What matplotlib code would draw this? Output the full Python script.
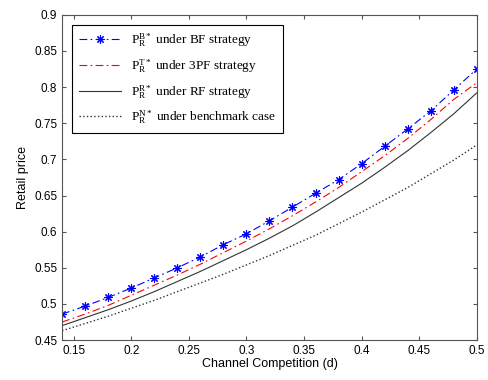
import numpy as np
import matplotlib
matplotlib.use("Agg")
import matplotlib.pyplot as plt

plt.rcParams['font.family'] = ['Liberation Sans', 'DejaVu Sans']
plt.rcParams['mathtext.fontset'] = 'custom'
plt.rcParams['mathtext.rm'] = 'Liberation Serif'
plt.rcParams['mathtext.it'] = 'Liberation Serif:italic'

# Channel competition values
d = [0.14, 0.16, 0.18, 0.20, 0.22, 0.24, 0.26, 0.28, 0.30, 0.32,
     0.34, 0.36, 0.38, 0.40, 0.42, 0.44, 0.46, 0.48, 0.50]

# Retail prices
p_bf = [0.486, 0.497, 0.509, 0.522, 0.536, 0.550, 0.565, 0.582, 0.597, 0.615,
        0.634, 0.653, 0.672, 0.694, 0.718, 0.742, 0.767, 0.796, 0.825]
p_3pf = [0.475, 0.486, 0.498, 0.512, 0.526, 0.540, 0.555, 0.571, 0.587, 0.604,
         0.622, 0.641, 0.661, 0.683, 0.705, 0.729, 0.755, 0.783, 0.806]
p_rf = [0.470, 0.481, 0.492, 0.504, 0.517, 0.531, 0.545, 0.560, 0.575, 0.591,
        0.608, 0.627, 0.647, 0.667, 0.689, 0.712, 0.737, 0.763, 0.792]
p_bench = [0.463, 0.473, 0.483, 0.494, 0.505, 0.517, 0.529, 0.541, 0.554, 0.567,
           0.581, 0.595, 0.611, 0.627, 0.644, 0.661, 0.680, 0.699, 0.720]

labels = [r'$\mathrm{P_R^{B*}}$ under BF strategy',
          r'$\mathrm{P_R^{T*}}$ under 3PF strategy',
          r'$\mathrm{P_R^{R*}}$ under RF strategy',
          r'$\mathrm{P_R^{N*}}$ under benchmark case']

fig = plt.figure(figsize=(4.89, 3.80), dpi=100)
ax = fig.add_axes([0.127, 0.105, 0.848, 0.856])

ax.plot(d, p_bf, color='#0000ff', ls=(0, (7, 3, 1.5, 3)), lw=0.8, marker=(8, 2, 0),
        markersize=6, markeredgewidth=0.8, label=labels[0])
ax.plot(d, p_3pf, color='#ff0000', ls=(0, (7, 3, 1.5, 3)), lw=0.8, label=labels[1])
ax.plot(d, p_rf, color='#333333', ls='-', lw=0.8, label=labels[2])
ax.plot(d, p_bench, color='#333333', ls=':', lw=1.0, label=labels[3])

ax.set_xlim(0.14, 0.5)
ax.set_ylim(0.45, 0.9)
ax.set_xticks([0.15, 0.2, 0.25, 0.3, 0.35, 0.4, 0.45, 0.5])
ax.set_xticklabels(['0.15', '0.2', '0.25', '0.3', '0.35', '0.4', '0.45', '0.5'])
ax.set_yticks(np.arange(0.45, 0.901, 0.05))
ax.set_yticklabels(['0.45', '0.5', '0.55', '0.6', '0.65', '0.7', '0.75', '0.8', '0.85', '0.9'])
ax.tick_params(direction='in', top=True, right=True, labelsize=8.5, length=3,
               color='#555555')
for s in ax.spines.values():
    s.set_color('#555555')

ax.set_xlabel('Channel Competition (d)', fontsize=9, labelpad=1)
ax.set_ylabel('Retail price', fontsize=9, labelpad=4)

leg = ax.legend(loc='upper left', prop={'family': 'Liberation Serif', 'size': 9.5},
                fancybox=False, framealpha=1, edgecolor='black',
                handlelength=3.2, borderaxespad=0.75, labelspacing=0.62,
                borderpad=0.5)
leg.get_frame().set_linewidth(0.8)

plt.savefig('out.png', dpi=100)
